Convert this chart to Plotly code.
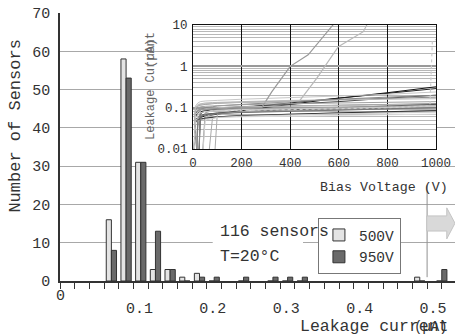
import plotly.graph_objects as go

# ---------------- Histogram data (leakage current bins, uA) ----------------
BIN_CENTERS = [0.07, 0.09, 0.11, 0.13, 0.15, 0.17, 0.19, 0.21, 0.25, 0.29, 0.31, 0.33, 0.49, 0.52]
COUNT_500V = [16, 58, 31, 3, 3, 1, 2, 0, 0, 0, 0, 0, 1, 0]
COUNT_950V = [8, 53, 31, 13, 3, 0, 1, 1, 1, 1, 1, 1, 0, 3]
X_TICK_VALUES = [0.1, 0.2, 0.3, 0.4, 0.5]
X_TICK_LABELS = ["0.1", "0.2", "0.3", "0.4", "0.5"]

# ---------------- Inset IV curves (bias voltage V, current uA) ----------------
IV_VOLTS = [0, 10, 20, 30, 50, 80, 100, 200, 400, 600, 800, 1000]
IV_CURRENTS = [
    [0.001, 0.001, 0.05, 0.058, 0.063, 0.067, 0.07, 0.085, 0.12, 0.17, 0.23, 0.32],
    [0.001, 0.06, 0.075, 0.08, 0.085, 0.09, 0.092, 0.1, 0.13, 0.17, 0.22, 0.29],
    [0.001, 0.001, 0.001, 0.07, 0.085, 0.09, 0.095, 0.105, 0.12, 0.14, 0.17, 0.2],
    [0.001, 0.09, 0.11, 0.115, 0.12, 0.125, 0.128, 0.135, 0.145, 0.155, 0.165, 0.18],
    [0.001, 0.1, 0.12, 0.125, 0.13, 0.133, 0.135, 0.14, 0.15, 0.155, 0.16, 0.165],
    [0.001, 0.001, 0.001, 0.001, 0.06, 0.07, 0.072, 0.08, 0.09, 0.1, 0.105, 0.11],
    [0.001, 0.001, 0.04, 0.05, 0.055, 0.058, 0.06, 0.065, 0.07, 0.075, 0.08, 0.085],
    [0.001, 0.05, 0.06, 0.065, 0.07, 0.072, 0.073, 0.078, 0.085, 0.09, 0.095, 0.1],
    [0.001, 0.001, 0.001, 0.001, 0.001, 0.055, 0.06, 0.065, 0.07, 0.073, 0.076, 0.08],
    [0.001, 0.07, 0.085, 0.09, 0.095, 0.098, 0.1, 0.105, 0.11, 0.115, 0.12, 0.125],
    [0.001, 0.001, 0.08, 0.09, 0.095, 0.1, 0.1, 0.105, 0.11, 0.115, 0.118, 0.12],
    [0.001, 0.001, 0.001, 0.06, 0.068, 0.072, 0.075, 0.08, 0.09, 0.1, 0.11, 0.12],
    [0.001, 0.04, 0.048, 0.052, 0.055, 0.057, 0.058, 0.06, 0.063, 0.066, 0.068, 0.07],
    [0.001, 0.001, 0.001, 0.001, 0.075, 0.085, 0.088, 0.095, 0.1, 0.105, 0.108, 0.11],
    [0.001, 0.045, 0.05, 0.053, 0.056, 0.058, 0.06, 0.064, 0.07, 0.075, 0.08, 0.085],
    [0.001, 0.001, 0.065, 0.075, 0.08, 0.083, 0.085, 0.09, 0.095, 0.1, 0.102, 0.105],
    [0.001, 0.001, 0.001, 0.09, 0.1, 0.105, 0.11, 0.12, 0.14, 0.16, 0.18, 0.2],
    [0.001, 0.001, 0.001, 0.001, 0.001, 0.001, 0.07, 0.08, 0.085, 0.09, 0.092, 0.095],
    [0.001, 0.11, 0.13, 0.14, 0.145, 0.15, 0.15, 0.16, 0.175, 0.19, 0.21, 0.24],
    [0.001, 0.001, 0.055, 0.062, 0.066, 0.07, 0.072, 0.076, 0.082, 0.088, 0.094, 0.1],
    [0.001, 0.001, 0.001, 0.001, 0.05, 0.056, 0.058, 0.062, 0.067, 0.071, 0.074, 0.078],
    [0.001, 0.085, 0.1, 0.105, 0.108, 0.11, 0.112, 0.118, 0.125, 0.13, 0.135, 0.14],
]
IV_COLORS = ["#111111", "#222222", "#444444", "#888888", "#bbbbbb", "#cccccc", "#999999",
             "#666666", "#aaaaaa", "#777777", "#bbbbbb", "#555555", "#dddddd", "#999999",
             "#333333", "#cccccc", "#888888", "#aaaaaa", "#c8c8c8", "#777777", "#d0d0d0",
             "#a0a0a0"]

# breakdown curves
BD1_VOLTS = [0, 10, 30, 100, 200, 283, 324, 400, 474, 576, 590]
BD1_CURRENTS = [0.001, 0.08, 0.09, 0.095, 0.1, 0.1, 0.24, 1.0, 1.9, 10.0, 13.0]
BD2_VOLTS = [0, 10, 30, 100, 200, 400, 440, 509, 598, 701, 715, 725]
BD2_CURRENTS = [0.001, 0.1, 0.12, 0.13, 0.135, 0.14, 0.15, 0.51, 3.0, 6.9, 10.0, 13.0]
BD3_VOLTS = [0, 10, 30, 100, 400, 800, 975, 985, 1000]
BD3_CURRENTS = [0.001, 0.06, 0.08, 0.085, 0.09, 0.1, 0.11, 4.0, 4.5]

# minor log grid lines of the inset
LOG_MINOR = [0.02, 0.03, 0.04, 0.05, 0.06, 0.07, 0.08, 0.09,
             0.2, 0.3, 0.4, 0.5, 0.6, 0.7, 0.8, 0.9,
             2, 3, 4, 5, 6, 7, 8, 9]

FONT = "Liberation Mono"

fig = go.Figure()

# inset curves
for cur, col in zip(IV_CURRENTS, IV_COLORS):
    fig.add_trace(go.Scatter(x=IV_VOLTS, y=cur, mode="lines", xaxis="x2", yaxis="y2",
                             line=dict(color=col, width=1), showlegend=False, hoverinfo="skip"))
fig.add_trace(go.Scatter(x=BD1_VOLTS, y=BD1_CURRENTS, mode="lines", xaxis="x2", yaxis="y2",
                         line=dict(color="#999999", width=1.2), showlegend=False))
fig.add_trace(go.Scatter(x=BD2_VOLTS, y=BD2_CURRENTS, mode="lines", xaxis="x2", yaxis="y2",
                         line=dict(color="#b8b8b8", width=1.2), showlegend=False))
fig.add_trace(go.Scatter(x=BD3_VOLTS, y=BD3_CURRENTS, mode="lines", xaxis="x2", yaxis="y2",
                         line=dict(color="#cccccc", width=1.2, dash="dot"), showlegend=False))

# histogram
fig.add_trace(go.Bar(x=BIN_CENTERS, y=COUNT_500V, name="500V",
                     marker=dict(color="#e4e4e4", line=dict(color="#333333", width=1))))
fig.add_trace(go.Bar(x=BIN_CENTERS, y=COUNT_950V, name="950V",
                     marker=dict(color="#6a6a6a", line=dict(color="#333333", width=1))))

fig.update_layout(
    width=455, height=335,
    margin=dict(l=60, r=0, t=13, b=54, autoexpand=False),
    paper_bgcolor="white", plot_bgcolor="white",
    barmode="group", bargap=0.3, bargroupgap=0,
    font=dict(family=FONT, color="#333333", size=15),
    xaxis=dict(range=[0, 0.538], tickmode="array", tickvals=X_TICK_VALUES, ticktext=X_TICK_LABELS,
               ticks="outside", ticklen=6, tickcolor="#333333", showline=True, linecolor="#333333",
               linewidth=1.5, showgrid=False, zeroline=False, automargin=False,
               minor=dict(tickmode="linear", tick0=0, dtick=0.02, ticks="outside", ticklen=6,
                          tickcolor="#333333"),
               ticklabelshift=6, ticklabelstandoff=6, tickfont=dict(size=15)),
    yaxis=dict(range=[0, 70], dtick=10, showgrid=True, gridcolor="#a8a8a8", gridwidth=1,
               showline=True, linecolor="#333333", linewidth=1.5, zeroline=False, automargin=False,
               ticks="", ticklabelstandoff=5, tickfont=dict(size=15)),
    xaxis2=dict(domain=[0.3367, 0.9519], anchor="y2", range=[0, 1000], dtick=200,
                showgrid=True, gridcolor="#111111", gridwidth=1, showline=True, mirror=True,
                linecolor="#111111", linewidth=1, zeroline=False, ticks="", automargin=False,
                tickfont=dict(size=12.5), ticklabelstandoff=2),
    yaxis2=dict(domain=[0.4925, 0.9552], anchor="x2", type="log", range=[-2, 1], dtick=1,
                showgrid=True, gridcolor="#9a9a9a", gridwidth=2, showline=True, mirror=True,
                linecolor="#111111", linewidth=1, zeroline=False, ticks="", automargin=False,
                minor=dict(tickmode="array", tickvals=LOG_MINOR, showgrid=True,
                           gridcolor="#b8b8b8", gridwidth=1),
                tickfont=dict(size=12.5), ticklabelstandoff=2),
    legend=dict(x=0.653, y=0.235, xanchor="left", yanchor="top", bgcolor="white",
                bordercolor="#777777", borderwidth=1, font=dict(size=14.5), tracegroupgap=0),
    showlegend=True,
)

# decorations
fig.add_shape(type="rect", xref="x", yref="y", x0=0.208, x1=0.331, y0=8, y1=12,
              fillcolor="white", line=dict(width=0), layer="between")
fig.add_shape(type="line", xref="x", yref="y", x0=0.5, x1=0.5, y0=1, y1=25,
              line=dict(color="#909090", width=1))
fig.add_shape(type="path", xref="x", yref="y",
              path="M 0.4995,13.05 L 0.5268,13.05 L 0.5268,11.0 L 0.538,15.1 L 0.5268,19.1 L 0.5268,17.0 L 0.4995,17.0 Z",
              fillcolor="#d9d9d9", line=dict(color="#c4c4c4", width=1))

# annotations
ann = [
    dict(text="0", x=0, xref="x", y=-0.056, yref="paper", xanchor="center", yanchor="middle",
         font=dict(size=15)),
    dict(text="Number of Sensors", textangle=-90, x=-0.1127, xref="paper", y=0.578, yref="paper",
         xanchor="center", yanchor="middle", font=dict(size=17)),
    dict(text="Leakage current", x=0.6025, xref="paper", y=-0.17, yref="paper",
         xanchor="left", yanchor="middle", font=dict(size=16.5)),
    dict(text="(µA)", x=0.987, xref="paper", y=-0.17, yref="paper",
         xanchor="right", yanchor="middle", font=dict(size=14)),
    dict(text="116 sensors", x=0.215, xref="x", y=12.8, yref="y", xanchor="left", yanchor="middle",
         font=dict(size=16.5)),
    dict(text="T=20°C", x=0.215, xref="x", y=6.3, yref="y", xanchor="left", yanchor="middle",
         font=dict(size=16.5)),
    dict(text="Bias Voltage (V)", x=0.8215, xref="paper", y=0.3507, yref="paper",
         xanchor="center", yanchor="middle", font=dict(size=13.3)),
    dict(text="Leakage Current", textangle=-90, x=0.2304, xref="paper", y=0.5187, yref="paper",
         xanchor="center", yanchor="bottom", font=dict(size=12, color="#666666")),
    dict(text="(µA)", textangle=-90, x=0.2304, xref="paper", y=0.91, yref="paper",
         xanchor="center", yanchor="top", font=dict(size=12, color="#666666")),
]
for a in ann:
    a["showarrow"] = False
    fig.add_annotation(**a)

fig.write_html("out.html")
